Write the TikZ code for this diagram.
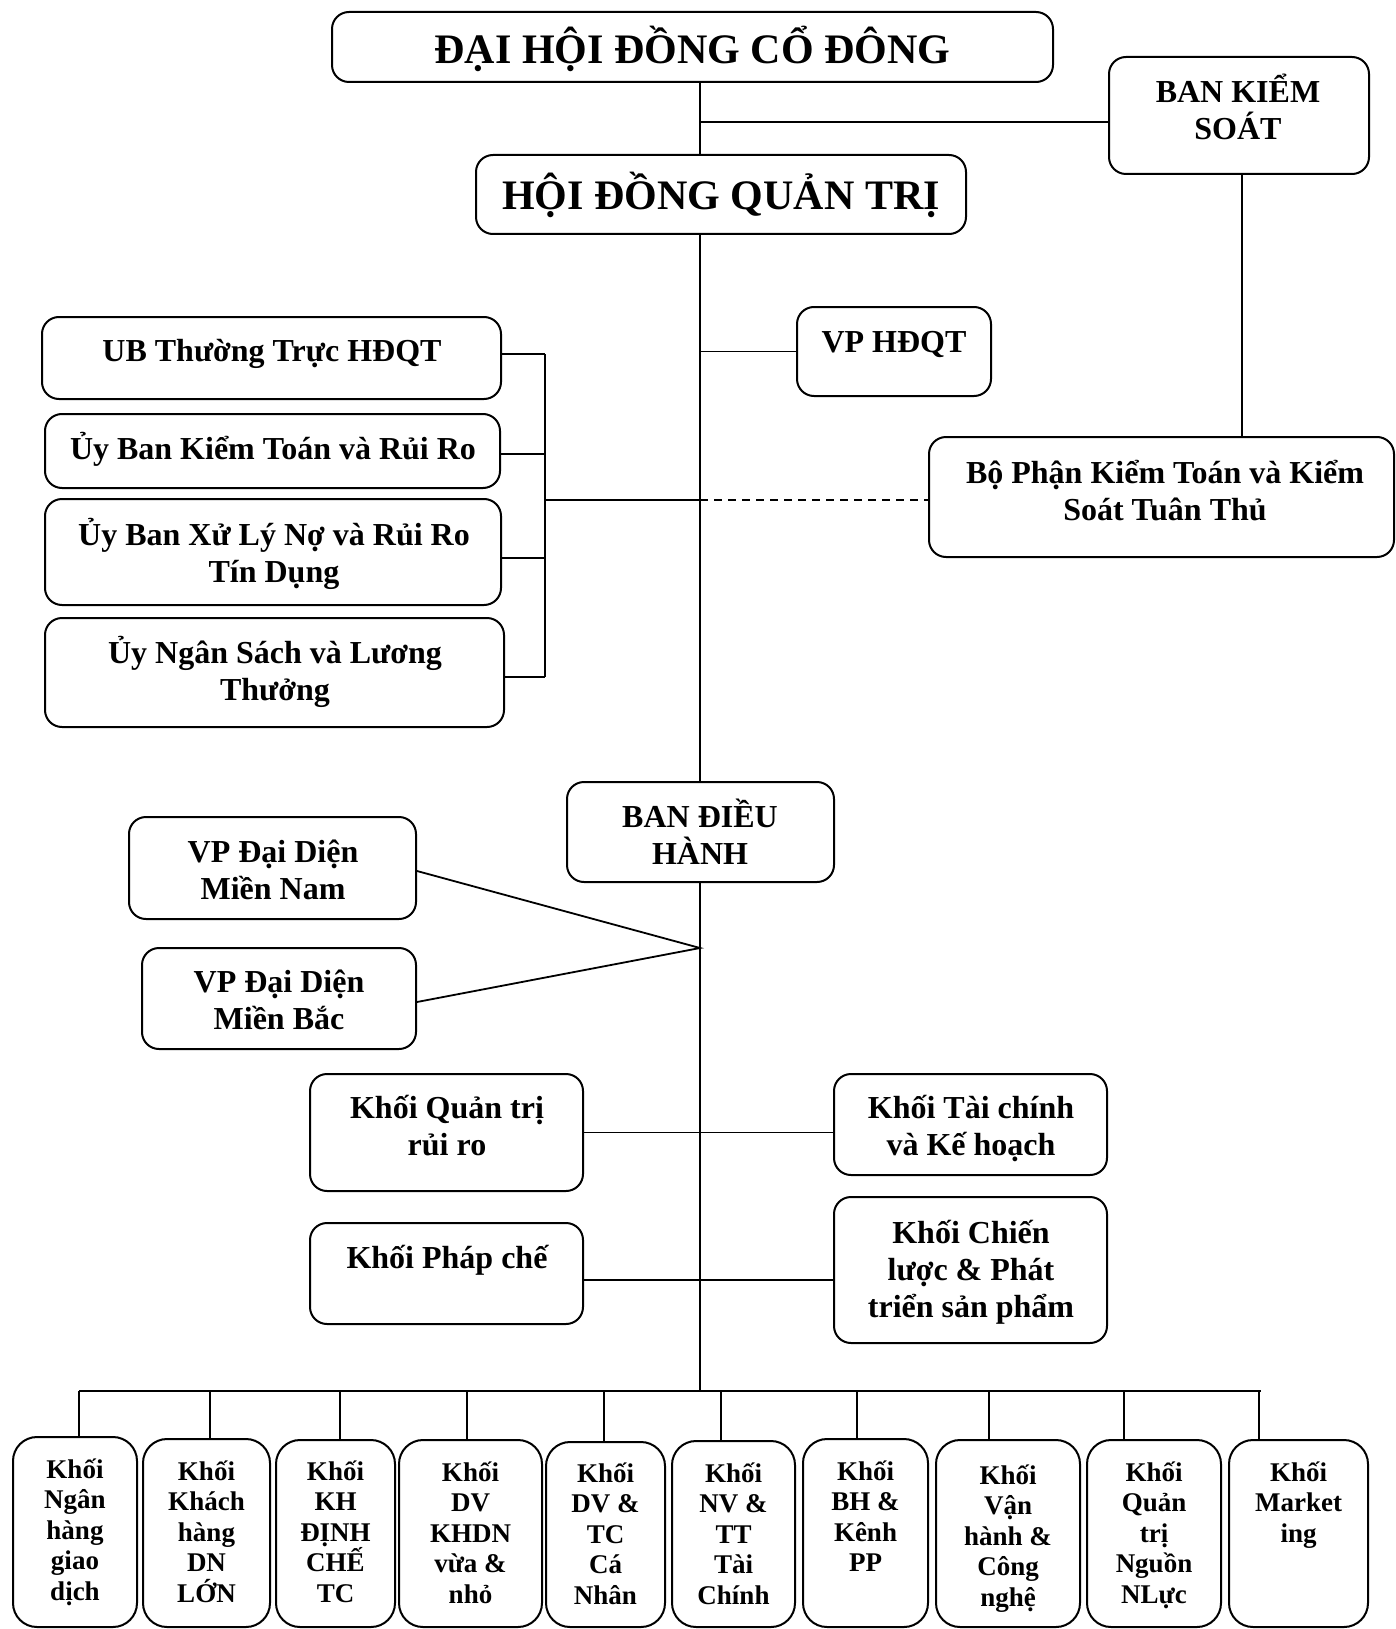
\documentclass[tikz,border=0pt]{standalone}
\usepackage{fontspec}
\setmainfont{Liberation Serif}
\newcommand\mys{\rule[-0.2\baselineskip]{0pt}{\baselineskip}}
\tikzset{
  box/.style={draw, line width=2pt, rounded corners=17pt, inner sep=0pt},
  bbox/.style={draw, line width=2pt, rounded corners=24pt, inner sep=0pt},
  txt/.style={inner sep=0pt, align=center, anchor=north, font=\fontsize{32}{37}\selectfont\bfseries, execute at begin node={\lineskiplimit=-100pt}},
  bigtxt/.style={txt, font=\fontsize{42}{48}\selectfont\bfseries},
  stxt/.style={txt, font=\fontsize{27}{30.5}\selectfont\bfseries},
  ln/.style={line width=1.8pt},
  bus/.style={line width=2.4pt},
  dln/.style={line width=1.8pt, dash pattern=on 8pt off 6pt},
}
\newcommand\bx[6]{\node[#1, minimum width={#4-#2}, minimum height={#5-#3}] (#6) at ({(#2+#4)/2},{-(#3+#5)/2}) {};}
\begin{document}
\begin{tikzpicture}[x=1pt,y=1pt]
\fill[white] (0,0) rectangle (1396,-1629);
\useasboundingbox (0,0) rectangle (1396,-1629);
\clip (0,0) rectangle (1396,-1629);

% boxes
\bx{box}{332}{12}{1053}{82}{dhdcd}
\bx{box}{1109}{57}{1369}{174}{bks}
\bx{box}{476}{155}{966}{234}{hdqt}
\bx{box}{797}{307}{991}{396}{vphd}
\bx{box}{42}{317}{501}{399}{ubtt}
\bx{box}{45}{414}{500}{488}{ubkt}
\bx{box}{45}{499}{501}{605}{ubxl}
\bx{box}{45}{618}{504}{727}{ubns}
\bx{box}{929}{437}{1394}{557}{bpkt}
\bx{box}{567}{782}{834}{882}{bdh}
\bx{box}{129}{817}{416}{919}{vpmn}
\bx{box}{142}{948}{416}{1049}{vpmb}
\bx{box}{310}{1074}{583}{1191}{kqt}
\bx{box}{834}{1074}{1107}{1175}{ktc}
\bx{box}{310}{1223}{583}{1324}{kpc}
\bx{box}{834}{1197}{1107}{1343}{kcl}

\bx{bbox}{13}{1437}{137}{1627}{b1}
\bx{bbox}{143}{1439}{270}{1627}{b2}
\bx{bbox}{276}{1440}{395}{1627}{b3}
\bx{bbox}{399}{1440}{542}{1627}{b4}
\bx{bbox}{546}{1442}{665}{1627}{b5}
\bx{bbox}{672}{1441}{795}{1627}{b6}
\bx{bbox}{803}{1439}{928}{1627}{b7}
\bx{bbox}{936}{1440}{1080}{1627}{b8}
\bx{bbox}{1087}{1440}{1221}{1627}{b9}
\bx{bbox}{1229}{1440}{1368}{1627}{b10}

% texts
\node[bigtxt] (t-dhdcd) at (692.5,-24.6) {\mys ĐẠI HỘI ĐỒNG CỔ ĐÔNG};
\node[bigtxt] (t-hdqt) at (721,-170.6) {\mys HỘI ĐỒNG QUẢN TRỊ};
\node[txt] (t-bks) at (1238,-72.4) {\mys BAN KIỂM\\\mys SOÁT};
\node[txt] (t-vphd) at (894,-322.4) {\mys VP HĐQT};
\node[txt] (t-ubtt) at (272,-331.4) {\mys UB Thường Trực HĐQT};
\node[txt] (t-ubkt) at (273,-429.4) {\mys Ủy Ban Kiểm Toán và Rủi Ro};
\node[txt] (t-ubxl) at (274,-515.4) {\mys Ủy Ban Xử Lý Nợ và Rủi Ro\\\mys Tín Dụng};
\node[txt] (t-ubns) at (275,-633.4) {\mys Ủy Ngân Sách và Lương\\\mys Thưởng};
\node[txt] (t-bpkt) at (1165,-453.4) {\mys Bộ Phận Kiểm Toán và Kiểm\\\mys Soát Tuân Thủ};
\node[txt] (t-bdh) at (700,-797.4) {\mys BAN ĐIỀU\\\mys HÀNH};
\node[txt] (t-vpmn) at (273,-832.4) {\mys VP Đại Diện\\\mys Miền Nam};
\node[txt] (t-vpmb) at (279,-962.4) {\mys VP Đại Diện\\\mys Miền Bắc};
\node[txt] (t-kqt) at (447,-1088.4) {\mys Khối Quản trị\\\mys rủi ro};
\node[txt] (t-ktc) at (971,-1088.4) {\mys Khối Tài chính\\\mys và Kế hoạch};
\node[txt] (t-kpc) at (447,-1238.4) {\mys Khối Pháp chế};
\node[txt] (t-kcl) at (971,-1213.4) {\mys Khối Chiến\\\mys lược \& Phát\\\mys triển sản phẩm};

\node[stxt] (t-b1) at (75,-1453.6) {\mys Khối\\\mys Ngân\\\mys hàng\\\mys giao\\\mys dịch};
\node[stxt] (t-b2) at (206.5,-1455.6) {\mys Khối\\\mys Khách\\\mys hàng\\\mys DN\\\mys LỚN};
\node[stxt] (t-b3) at (335.5,-1455.6) {\mys Khối\\\mys KH\\\mys ĐỊNH\\\mys CHẾ\\\mys TC};
\node[stxt] (t-b4) at (470.5,-1456.6) {\mys Khối\\\mys DV\\\mys KHDN\\\mys vừa \&\\\mys nhỏ};
\node[stxt] (t-b5) at (605.5,-1457.6) {\mys Khối\\\mys DV \&\\\mys TC\\\mys Cá\\\mys Nhân};
\node[stxt] (t-b6) at (733.5,-1457.6) {\mys Khối\\\mys NV \&\\\mys TT\\\mys Tài\\\mys Chính};
\node[stxt] (t-b7) at (865.5,-1455.6) {\mys Khối\\\mys BH \&\\\mys Kênh\\\mys PP};
\node[stxt] (t-b8) at (1008,-1459.6) {\mys Khối\\\mys Vận\\\mys hành \&\\\mys Công\\\mys nghệ};
\node[stxt] (t-b9) at (1154,-1456.6) {\mys Khối\\\mys Quản\\\mys trị\\\mys Nguồn\\\mys NLực};
\node[stxt] (t-b10) at (1298.5,-1456.6) {\mys Khối\\\mys Market\\\mys ing};

% junction coordinates
\coordinate (m) at (700,0);
\coordinate (k) at (1242,0);
\coordinate (jb) at (700,-122);
\coordinate (s1) at (545,-354);
\coordinate (s2) at (545,-454);
\coordinate (s3) at (545,-558);
\coordinate (s4) at (545,-677);
\coordinate (sj) at (545,-500);
\coordinate (mj) at (700,-500);
\coordinate (cv) at (700,-948);
\coordinate (busL) at (79,-1391);
\coordinate (busR) at (1261,-1391);
\coordinate (busM) at (700,-1391);

% connectors
\draw[ln] (dhdcd.south -| m) -- (hdqt.north -| m);
\draw[ln] (jb) -- (jb -| bks.west);
\draw[ln] (bks.south -| k) -- (bpkt.north -| k);
\draw[ln] (hdqt.south -| m) -- (bdh.north -| m);
\draw[ln] (vphd.west -| m) -- (vphd.west);
\draw[ln] (s1 -| ubtt.east) -- (s1);
\draw[ln] (s2 -| ubkt.east) -- (s2);
\draw[ln] (s3 -| ubxl.east) -- (s3);
\draw[ln] (s4 -| ubns.east) -- (s4);
\draw[ln] (s1) -- (s4);
\draw[ln] (sj) -- (mj);
\draw[dln] (mj) -- (mj -| bpkt.west);
\draw[ln] ([yshift=-3pt]vpmn.east) -- (cv) -- ([yshift=-3.5pt]vpmb.east);
\draw[ln] (kqt.east) -- (kqt.east -| ktc.west);
\draw[ln] ([yshift=-6.5pt]kpc.east) -- ([yshift=-6.5pt]kpc.east -| kcl.west);
\draw[ln] (bdh.south -| m) -- (busM);
\draw[bus] (busL) -- (busR);
\foreach \i/\xx in {1/79,2/210,3/340,4/467,5/604,6/721,7/857,8/989,9/1124,10/1259}{
  \coordinate (d\i) at (\xx,-1391);
  \draw[ln] (d\i) -- (d\i |- b\i.north);
}
\end{tikzpicture}
\end{document}
